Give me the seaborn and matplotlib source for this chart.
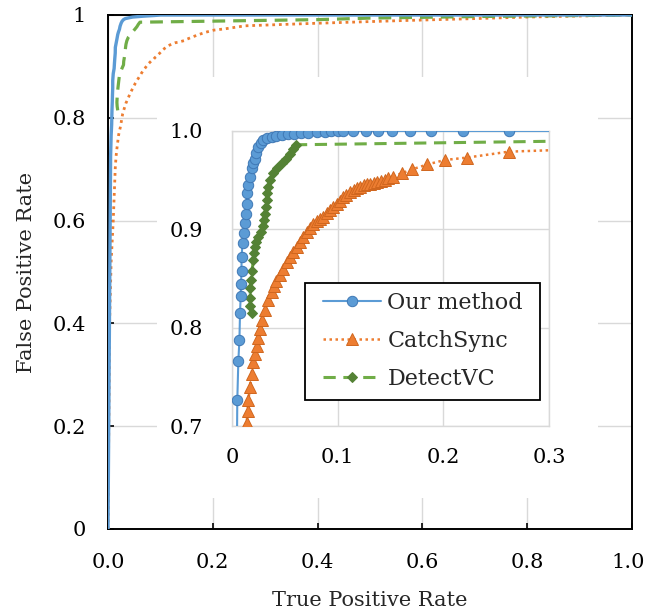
import matplotlib
matplotlib.use("Agg")
import matplotlib.pyplot as plt
import seaborn as sns
from matplotlib.patches import Rectangle
from matplotlib.transforms import ScaledTranslation

# ---------------- data ----------------
our_x = [0, 0.005, 0.006, 0.007, 0.0076, 0.0082, 0.0085, 0.009, 0.009, 0.010,
         0.0117, 0.0123, 0.013, 0.0138, 0.014, 0.0155, 0.017, 0.0186, 0.020, 0.0218,
         0.023, 0.025, 0.027, 0.0296, 0.033, 0.0375, 0.042, 0.047, 0.053, 0.059,
         0.065, 0.072, 0.080, 0.088, 0.094, 0.100, 0.105, 0.1148, 0.1265, 0.1384,
         0.1511, 0.1684, 0.188, 0.2189, 0.262, 1.0]
our_y = [0, 0.726, 0.766, 0.787, 0.815, 0.832, 0.844, 0.858, 0.872, 0.886,
         0.896, 0.906, 0.916, 0.926, 0.937, 0.945, 0.953, 0.962, 0.967, 0.972,
         0.978, 0.984, 0.988, 0.991, 0.993, 0.994, 0.995, 0.996, 0.9965, 0.997,
         0.9975, 0.998, 0.9985, 0.999, 0.9995, 1.0, 1.0, 1.0, 1.0, 1.0,
         1.0, 1.0, 1.0, 1.0, 1.0, 1.0]

cs_x = [0, 0.003, 0.006, 0.010, 0.0139, 0.0147, 0.0155, 0.017, 0.0186, 0.020,
        0.0215, 0.0234, 0.025, 0.0265, 0.028, 0.031, 0.034, 0.0375, 0.040, 0.042,
        0.0455, 0.0486, 0.052, 0.055, 0.058, 0.0612, 0.064, 0.0675, 0.071, 0.0738,
        0.077, 0.080, 0.083, 0.0864, 0.0895, 0.0927, 0.096, 0.099, 0.102, 0.105,
        0.108, 0.112, 0.115, 0.118, 0.1215, 0.125, 0.128, 0.131, 0.134, 0.137,
        0.141, 0.145, 0.148, 0.152, 0.1605, 0.1706, 0.1848, 0.2015, 0.2226, 0.262,
        0.4, 0.557, 0.7, 0.8, 0.9, 1.0]
cs_y = [0, 0.4, 0.52, 0.6, 0.703, 0.715, 0.726, 0.740, 0.753, 0.765,
        0.773, 0.781, 0.790, 0.799, 0.808, 0.818, 0.828, 0.836, 0.842, 0.847,
        0.854, 0.860, 0.867, 0.872, 0.877, 0.882, 0.887, 0.8925, 0.897, 0.901,
        0.905, 0.908, 0.911, 0.913, 0.917, 0.9196, 0.923, 0.926, 0.929, 0.9326,
        0.935, 0.938, 0.940, 0.9417, 0.943, 0.945, 0.946, 0.9465, 0.947, 0.948,
        0.949, 0.950, 0.952, 0.9535, 0.957, 0.961, 0.966, 0.9705, 0.973, 0.979,
        0.984, 0.989, 0.993, 0.996, 0.998, 1.0]

dv_x = [0.0186, 0.0175, 0.017, 0.0175, 0.018, 0.019, 0.0202, 0.021, 0.0218, 0.023,
        0.025, 0.027, 0.0296, 0.030, 0.031, 0.032, 0.0328, 0.0335, 0.0343, 0.036,
        0.039, 0.043, 0.047, 0.051, 0.055, 0.058, 0.061, 0.4, 0.5, 0.7, 1.0]
dv_y = [0.8145, 0.822, 0.830, 0.840, 0.848, 0.858, 0.869, 0.876, 0.882, 0.887,
        0.892, 0.897, 0.903, 0.910, 0.916, 0.923, 0.930, 0.937, 0.943, 0.950,
        0.957, 0.962, 0.967, 0.972, 0.977, 0.982, 0.986, 0.991, 0.994, 0.997, 1.0]

labels = ["Our method", "CatchSync", "DetectVC"]
main_xticks = [0.0, 0.2, 0.4, 0.6, 0.8, 1.0]
main_xticklabels = ["0.0", "0.2", "0.4", "0.6", "0.8", "1.0"]
main_yticks = [0, 0.2, 0.4, 0.6, 0.8, 1.0]
main_yticklabels = ["0", "0.2", "0.4", "0.6", "0.8", "1"]
in_xticks = [0, 0.1, 0.2, 0.3]
in_xticklabels = ["0", "0.1", "0.2", "0.3"]
in_yticks = [0.7, 0.8, 0.9, 1.0]
in_yticklabels = ["0.7", "0.8", "0.9", "1.0"]

# ---------------- style ----------------
sns.set_theme(style="white")
plt.rcParams["font.family"] = ["DejaVu Serif"]
plt.rcParams["mathtext.fontset"] = "dejavuserif"

BLUE = "#5b9bd5"
BLUE_E = "#3f78b5"
ORANGE = "#ed7d31"
ORANGE_E = "#d0661e"
GREEN = "#70ad47"
GREEN_M = "#548235"
GRID = "#d9d9d9"

W, H = 647, 611
fig = plt.figure(figsize=(W / 100, H / 100), dpi=100)
ax = fig.add_axes([108/W, 1-529/H, (632-108)/W, (529-15)/H])

# main curves
sns.lineplot(x=our_x, y=our_y, ax=ax, color=BLUE, linewidth=2.4,
             estimator=None, sort=False, zorder=4)
sns.lineplot(x=cs_x, y=cs_y, ax=ax, color=ORANGE, linewidth=2.0,
             linestyle=(0, (1, 1.4)), estimator=None, sort=False, zorder=3)
sns.lineplot(x=dv_x, y=dv_y, ax=ax, color=GREEN, linewidth=2.3,
             linestyle=(0, (4, 2.5)), estimator=None, sort=False, zorder=3)

ax.set_xlim(0, 1)
ax.set_ylim(0, 1)
ax.set_xticks(main_xticks)
ax.set_xticklabels(main_xticklabels)
ax.set_yticks(main_yticks)
ax.set_yticklabels(main_yticklabels)
ax.set_axisbelow(True)
ax.grid(True, color=GRID, linewidth=1.0)
ax.tick_params(direction="in", length=4, width=1.2, colors="black",
               labelsize=15, left=True, bottom=True)
ax.tick_params(axis="y", pad=16)
ax.tick_params(axis="x", pad=17)
for s in ax.spines.values():
    s.set_color("black")
    s.set_linewidth(1.4)
ax.set_xlabel("True Positive Rate", fontsize=15, labelpad=14)
ax.set_ylabel("False Positive Rate", fontsize=15, labelpad=12)

# keep the last x tick label inside the figure (as in the reference)
last = ax.get_xticklabels()[-1]
last.set_transform(last.get_transform() +
                   ScaledTranslation(-4 / 100, 0, fig.dpi_scale_trans))

# white background block of the inset chart
ax.add_patch(Rectangle((157/W, 1-498/H), (598-157)/W, (498-77)/H,
                       transform=fig.transFigure, facecolor="white",
                       edgecolor="none", zorder=1, clip_on=False))

# ---------------- inset ----------------
axi = fig.add_axes([232/W, 1-426/H, (549-232)/W, (426-131)/H])
axi.set_facecolor("white")
sns.lineplot(x=our_x, y=our_y, ax=axi, color=BLUE, linewidth=1.5,
             marker="o", markersize=7.5, markerfacecolor=BLUE,
             markeredgecolor=BLUE_E, markeredgewidth=0.7,
             estimator=None, sort=False, zorder=5, label=labels[0])
sns.lineplot(x=cs_x, y=cs_y, ax=axi, color=ORANGE, linewidth=1.8,
             linestyle=(0, (1, 1.4)), marker="^", markersize=8,
             markerfacecolor=ORANGE, markeredgecolor=ORANGE_E,
             markeredgewidth=0.7, estimator=None, sort=False, zorder=3,
             label=labels[1])
sns.lineplot(x=dv_x, y=dv_y, ax=axi, color=GREEN, linewidth=2.2,
             linestyle=(0, (4, 2.5)), marker="D", markersize=5,
             markerfacecolor=GREEN_M, markeredgecolor=GREEN_M,
             estimator=None, sort=False, zorder=4, label=labels[2])

axi.set_xlim(0, 0.3)
axi.set_ylim(0.7, 1.0)
axi.set_xticks(in_xticks)
axi.set_xticklabels(in_xticklabels)
axi.set_yticks(in_yticks)
axi.set_yticklabels(in_yticklabels)
axi.set_axisbelow(True)
axi.grid(True, color=GRID, linewidth=1.0)
axi.tick_params(length=0, labelsize=15, colors="black")
axi.tick_params(axis="y", pad=21)
axi.tick_params(axis="x", pad=16)
for s in axi.spines.values():
    s.set_color(GRID)
    s.set_linewidth(1.0)
axi.set_xlabel("")
axi.set_ylabel("")

# legend frame (drawn as a box) and legend entries
axi.add_patch(Rectangle((305/W, 1-400/H), (540-305)/W, (400-283)/H,
                        transform=fig.transFigure, facecolor="white",
                        edgecolor="black", linewidth=1.3, zorder=6,
                        clip_on=False))
leg = axi.legend(loc="upper left", bbox_to_anchor=(323/W, 1-292/H),
                 bbox_transform=fig.transFigure, fontsize=16, frameon=False,
                 handlelength=2.63, handletextpad=0.27, labelspacing=0.72,
                 borderpad=0, borderaxespad=0)
leg.set_zorder(7)

fig.savefig("out.png", dpi=100)
